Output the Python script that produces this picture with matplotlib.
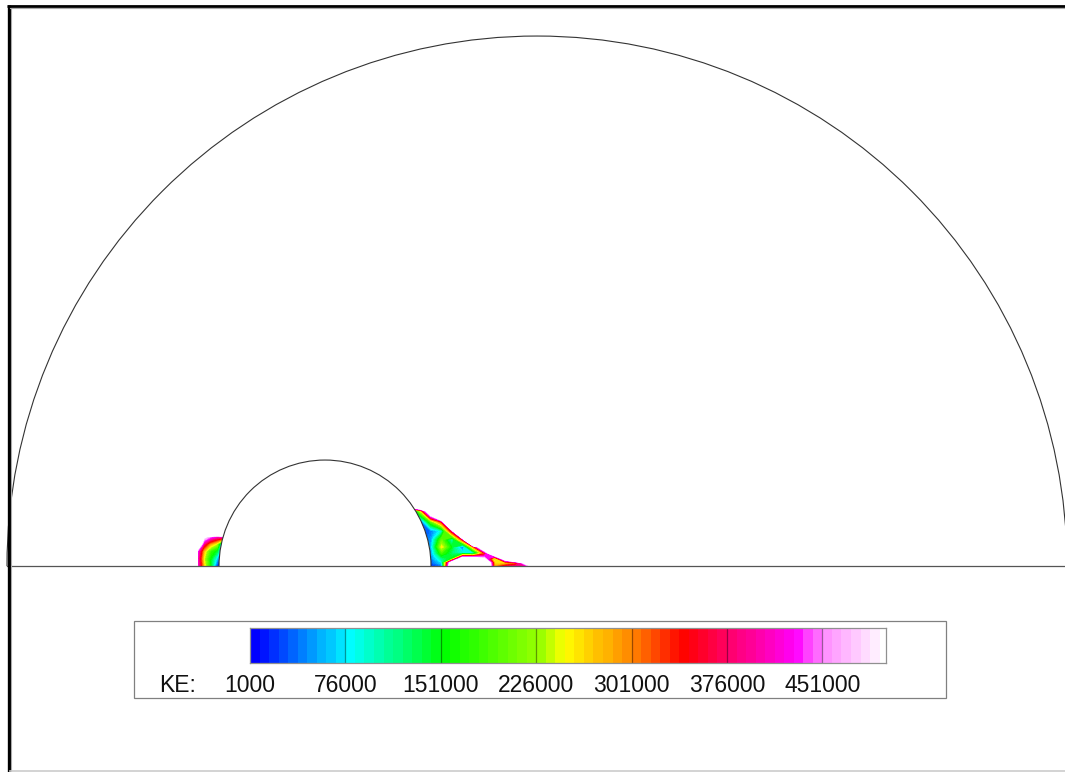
import numpy as np
import matplotlib
matplotlib.use("Agg")
import matplotlib.pyplot as plt
from matplotlib.colors import LinearSegmentedColormap, BoundaryNorm
from matplotlib.patches import Wedge, Arc, Rectangle

plt.rcParams['font.family'] = ['Liberation Sans', 'DejaVu Sans']

# geometry: outer half-domain and cylinder
R_outer = 5.0
cyl_center = -2.0
cyl_radius = 1.0

# KE (values above the top level show as white)
H = 1.5e6
B = 20000

# wake region behind the cylinder
wake_x = [-1.2, -1.1, -1.0, -0.9, -0.8, -0.7, -0.6, -0.5, -0.4, -0.3, -0.2, -0.1, 0.0]
wake_y = [0.0, 0.03, 0.07, 0.12, 0.18, 0.25, 0.33, 0.42, 0.52, 0.62]
wake_ke = [
    [B, B, 15000, 40000, 700000, 900000, 900000, 800000, 280000, 350000, 380000, 400000, 600000],
    [B, B, 30000, 70000, 600000, 900000, 900000, 800000, 260000, 250000, 300000, 560000, H],
    [B, B, 40000, 110000, 150000, 600000, 600000, 500000, 200000, 600000, 900000, H, H],
    [B, B, 50000, 180000, 120000, 90000, 70000, 300000, 700000, H, H, H, H],
    [B, B, 60000, 250000, 140000, 30000, 300000, 700000, H, H, H, H, H],
    [B, B, 50000, 200000, 90000, 350000, H, H, H, H, H, H, H],
    [B, B, 40000, 90000, 380000, H, H, H, H, H, H, H, H],
    [B, B, 200000, 350000, H, H, H, H, H, H, H, H, H],
    [B, 250000, 700000, H, H, H, H, H, H, H, H, H, H],
    [H, H, H, H, H, H, H, H, H, H, H, H, H],
]

# stagnation region in front of the cylinder
blob_x = [-3.26, -3.2, -3.14, -3.08, -3.02, -2.96]
blob_y = [0.0, 0.07, 0.14, 0.21, 0.28, 0.35]
blob_ke = [
    [H, 420000, 260000, 150000, 20000, 10000],
    [H, 410000, 240000, 150000, 70000, 10000],
    [H, 430000, 270000, 180000, 140000, 10000],
    [H, 650000, 380000, 290000, 240000, 10000],
    [H, H, 520000, 460000, 420000, 450000],
    [H, H, H, H, H, H],
]

ke_min, ke_max = 1000, 501000
tick_values = [1000, 76000, 151000, 226000, 301000, 376000, 451000]
levels = np.append(np.arange(ke_min, ke_max - 1000, 7500), ke_max)

cmap = LinearSegmentedColormap.from_list("ke", [
    (0.00, (0.0, 0.0, 1.0)),
    (0.15, (0.0, 1.0, 1.0)),
    (0.30, (0.0, 1.0, 0.0)),
    (0.45, (0.6, 1.0, 0.0)),
    (0.49, (1.0, 1.0, 0.0)),
    (0.60, (1.0, 0.5, 0.0)),
    (0.68, (1.0, 0.0, 0.0)),
    (0.75, (1.0, 0.0, 0.4)),
    (0.86, (1.0, 0.0, 1.0)),
    (0.90, (1.0, 0.55, 1.0)),
    (1.00, (1.0, 1.0, 1.0)),
])
norm = BoundaryNorm(levels, cmap.N)

fig = plt.figure(figsize=(10.65, 7.72), dpi=100)

# main domain
ax = fig.add_axes([0, 0, 1, 1])
ax.set_xlim(-5.066, 4.981)
ax.set_ylim(-1.943, 5.340)
ax.axis('off')

ax.contourf(wake_x, wake_y, np.array(wake_ke), levels=levels, cmap=cmap, norm=norm, zorder=1)
ax.contourf(blob_x, blob_y, np.array(blob_ke), levels=levels, cmap=cmap, norm=norm, zorder=1)

ax.add_patch(Wedge((cyl_center, 0), cyl_radius, 0, 180, fc='white', ec='none', zorder=2))
ax.add_patch(Arc((0, 0), 2 * R_outer, 2 * R_outer, theta1=0, theta2=180, color='#333333', lw=0.8, zorder=3))
ax.add_patch(Arc((cyl_center, 0), 2 * cyl_radius, 2 * cyl_radius, theta1=0, theta2=180,
                 color='#333333', lw=0.8, zorder=3))
ax.plot([-R_outer, R_outer], [0, 0], color='#555555', lw=0.9, zorder=3)

# overlay in pixel units for frame and legend box
ov = fig.add_axes([0, 0, 1, 1])
ov.set_xlim(0, 1065)
ov.set_ylim(772, 0)
ov.axis('off')
ov.patch.set_visible(False)
ov.plot([8.5, 8.5], [5, 772], color='black', lw=2.4, solid_capstyle='butt')
ov.plot([10.6, 10.6], [7, 772], color='#aaaaaa', lw=0.8)
ov.plot([7, 1065], [5.8, 5.8], color='black', lw=2.0, solid_capstyle='butt')
ov.plot([10, 1065], [7.6, 7.6], color='#aaaaaa', lw=0.8)
ov.plot([10, 1065], [770.8, 770.8], color='#cccccc', lw=1.2)
ov.add_patch(Rectangle((134, 621), 812, 77, fc='white', ec='#808080', lw=0.9))
ov.text(178, 685, 'KE:', ha='center', va='center', fontsize=16.5, color='#111111')

# colour legend
cb = fig.add_axes([250 / 1065, (772 - 663) / 772, 636 / 1065, 35 / 772])
mids = 0.5 * (levels[:-1] + levels[1:])
cb.pcolormesh(levels, [0, 1], mids[None, :], cmap=cmap, norm=norm)
cb.set_xlim(ke_min, ke_max)
cb.set_ylim(0, 1)
cb.set_xticks([])
cb.set_yticks([])
for s in cb.spines.values():
    s.set_color('#909090')
    s.set_linewidth(0.9)
for v in tick_values[1:]:
    cb.axvline(v, color='black', alpha=0.4, lw=0.9)
for v in tick_values:
    cb.text(v, -0.63, str(v), transform=cb.get_xaxis_transform(), ha='center', va='center',
            fontsize=16.5, color='#111111', clip_on=False)

fig.savefig("out.png", dpi=100)
